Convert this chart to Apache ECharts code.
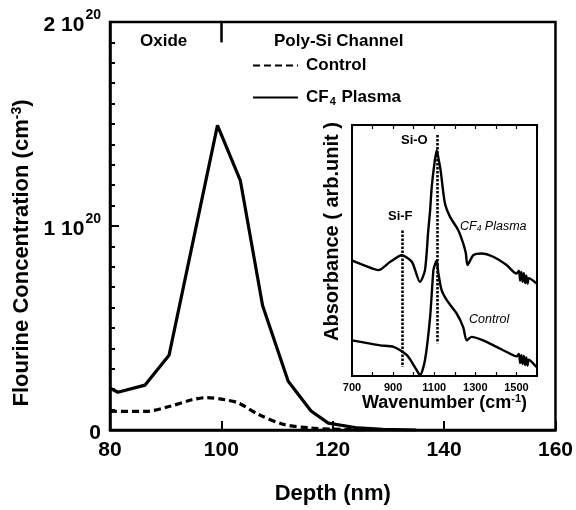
<!DOCTYPE html>
<html>
<head>
<meta charset="utf-8">
<script src="https://cdn.jsdelivr.net/npm/echarts@6/dist/echarts.min.js"></script>
<style>html,body{margin:0;padding:0;background:#fff}#c{width:576px;height:510px}</style>
</head>
<body>
<div id="c"></div>
<script>
// ---- Main SIMS profile data (Depth nm, concentration cm^-3) ----
const cf4Depth = [80, 81.4, 86.3, 90.6, 99.3, 103.4, 107.4, 112.0, 116.1, 119.2, 124.5, 129, 135];
const cf4Conc  = [0.205e20, 0.185e20, 0.22e20, 0.366e20, 1.493e20, 1.224e20, 0.61e20, 0.239e20, 0.093e20, 0.034e20, 0.01e20, 0.003e20, 0];
const ctlDepth = [80, 86.3, 90.6, 94.7, 97.4, 100.7, 103.1, 106.7, 111.4, 116.1, 120, 126];
const ctlConc  = [0.092e20, 0.091e20, 0.115e20, 0.148e20, 0.159e20, 0.148e20, 0.132e20, 0.076e20, 0.026e20, 0.01e20, 0.004e20, 0];
const yTicks = [0, 1e20, 2e20];
const xTicks = [80, 100, 120, 140, 160];

// ---- Inset FTIR data (wavenumber cm^-1, absorbance arb.) ----
const irWave = [700, 756, 829, 886, 942, 991, 1031, 1055, 1071, 1080, 1088, 1100, 1112, 1120, 1131, 1152, 1177, 1217, 1241, 1254, 1262, 1290, 1330, 1387, 1452, 1500, 1512, 1518, 1524, 1530, 1536, 1542, 1548, 1554, 1560, 1597];
const irCF4  = [46.1, 44.2, 42.2, 45.5, 48.1, 45.5, 37.5, 42.2, 58, 66, 75.4, 84, 90, 87, 82, 68.8, 63.4, 58.1, 52.8, 48.8, 44.2, 48.1, 48.8, 47.5, 44.2, 40.8, 42, 38, 41.5, 37.5, 41, 37, 40, 36.8, 39, 36.9];
const irWave2 = [700, 789, 837, 902, 967, 1015, 1031, 1055, 1080, 1096, 1104, 1112, 1120, 1136, 1161, 1209, 1241, 1258, 1282, 1338, 1403, 1468, 1500, 1512, 1518, 1524, 1530, 1536, 1542, 1548, 1554, 1560, 1597];
const irCtl  = [14.2, 12.9, 12.2, 11.6, 8.3, 2.3, 0.3, 6.3, 23.5, 42.2, 44.5, 46, 41, 34.2, 30.2, 24.9, 19.5, 14.2, 15.6, 14.2, 11.6, 8.9, 7.8, 8.8, 5.2, 8.3, 4.8, 8, 4.4, 7.4, 4.2, 6.5, 3.6];
const siF = [945, 58, 3.6];   // wavenumber, top, bottom
const siO = [1115, 96, 13];

const FONT = '"Liberation Sans", Arial, Helvetica, sans-serif';
const zip = (a, b) => a.map((v, i) => [v, b[i]]);

const chart = echarts.init(document.getElementById('c'), null, {renderer: 'canvas'});
chart.setOption({
  animation: false,
  backgroundColor: '#fff',
  textStyle: {fontFamily: FONT},
  grid: [
    {left: 110, top: 22, width: 448, height: 410, show: true, borderColor: '#000', borderWidth: 2.5, backgroundColor: 'transparent'},
    {left: 352, top: 125, width: 185, height: 251, show: true, borderColor: '#000', borderWidth: 2, backgroundColor: '#fff'}
  ],
  legend: {
    data: ['Control', 'CF4 Plasma'],
    orient: 'vertical', left: 252, top: 57, padding: 0,
    itemWidth: 45, itemHeight: 20, itemGap: 15,
    itemStyle: {opacity: 0},
    formatter: n => n === 'CF4 Plasma' ? '{a|CF}{s|4}{a| Plasma}' : '{a|' + n + '}',
    textStyle: {
      color: '#000', padding: [0, 0, 0, 3],
      rich: {
        a: {fontFamily: FONT, fontWeight: 'bold', fontSize: 17, color: '#000'},
        s: {fontFamily: FONT, fontWeight: 'bold', fontSize: 11, color: '#000', verticalAlign: 'bottom', padding: [8, 1, 0, 1]}
      }
    }
  },
  xAxis: [
    {
      gridIndex: 0, type: 'value', min: 80, max: 160, interval: 20,
      name: 'Depth (nm)', nameLocation: 'middle', nameGap: 53,
      nameTextStyle: {fontFamily: FONT, fontWeight: 'bold', fontSize: 22, color: '#000'},
      axisLine: {show: true, lineStyle: {color: '#000', width: 2.5}},
      axisTick: {show: true, inside: true, length: 9, lineStyle: {color: '#000', width: 2}},
      axisLabel: {margin: 10, fontFamily: FONT, fontWeight: 'bold', fontSize: 21, color: '#000'},
      splitLine: {show: false}
    },
    {
      gridIndex: 1, type: 'value', min: 700, max: 1600, interval: 100,
      name: 'Wavenumber (cm{s|-1})', nameLocation: 'middle', nameGap: 17,
      nameTextStyle: {fontFamily: FONT, fontWeight: 'bold', fontSize: 18, color: '#000',
        rich: {s: {fontFamily: FONT, fontWeight: 'bold', fontSize: 11, color: '#000', verticalAlign: 'top', padding: [0, 0, 8, 0]}}},
      axisLine: {show: true, lineStyle: {color: '#000', width: 2}},
      axisTick: {show: true, inside: true, length: 4, lineStyle: {color: '#000', width: 1.2}},
      axisLabel: {margin: 6, fontFamily: FONT, fontWeight: 'bold', fontSize: 11, color: '#000',
        formatter: v => ((v - 700) % 200 === 0 && v < 1600) ? String(v) : ''},
      splitLine: {show: false}
    },
    {
      gridIndex: 1, type: 'value', min: 700, max: 1600, interval: 100, position: 'top',
      axisLine: {show: true, lineStyle: {color: '#000', width: 2}},
      axisTick: {show: true, inside: true, length: 4, lineStyle: {color: '#000', width: 1.2}},
      axisLabel: {show: false}, splitLine: {show: false}
    }
  ],
  yAxis: [
    {
      gridIndex: 0, type: 'value', min: 0, max: 2e20, interval: 1e20,
      name: 'Flourine Concentration (cm{s|-3})', nameLocation: 'middle', nameGap: 73,
      nameTextStyle: {fontFamily: FONT, fontWeight: 'bold', fontSize: 22, color: '#000', padding: [0, 54, 0, 0],
        rich: {s: {fontFamily: FONT, fontWeight: 'bold', fontSize: 14, color: '#000', verticalAlign: 'top', padding: [0, 0, 10, 0]}}},
      axisLine: {show: true, lineStyle: {color: '#000', width: 2.5}},
      axisTick: {show: true, inside: true, length: 9, lineStyle: {color: '#000', width: 2}},
      minorTick: {show: true, splitNumber: 10, length: 5, lineStyle: {color: '#000', width: 2}},
      axisLabel: {
        margin: 9, fontFamily: FONT, fontWeight: 'bold', fontSize: 21, color: '#000',
        formatter: v => v === 0 ? '{a|0}' : '{a|' + Math.round(v / 1e20) + ' 10}{s|20}',
        rich: {
          a: {fontFamily: FONT, fontWeight: 'bold', fontSize: 21, color: '#000', padding: [6, 0, 0, 0]},
          s: {fontFamily: FONT, fontWeight: 'bold', fontSize: 14, color: '#000', verticalAlign: 'top', padding: [0, 0, 6, 1]}
        }
      },
      splitLine: {show: false}
    },
    {
      gridIndex: 1, type: 'value', min: 0, max: 100,
      name: 'Absorbance ( arb.unit )', nameLocation: 'middle', nameGap: 10,
      nameTextStyle: {fontFamily: FONT, fontWeight: 'bold', fontSize: 20, color: '#000', padding: [0, 0, 0, 38]},
      axisLine: {show: true, lineStyle: {color: '#000', width: 2}},
      axisTick: {show: false}, axisLabel: {show: false}, splitLine: {show: false}
    }
  ],
  series: [
    {
      name: 'Control', type: 'line', xAxisIndex: 0, yAxisIndex: 0,
      data: zip(ctlDepth, ctlConc), symbol: 'none', smooth: 0.3,
      lineStyle: {color: '#000', width: 3.2, type: [7, 4]}, itemStyle: {color: '#000'}
    },
    {
      name: 'CF4 Plasma', type: 'line', xAxisIndex: 0, yAxisIndex: 0,
      data: zip(cf4Depth, cf4Conc), symbol: 'none',
      lineStyle: {color: '#000', width: 3.2, type: 'solid'}, itemStyle: {color: '#000'},
      markLine: {
        silent: true, symbol: 'none', label: {show: false},
        lineStyle: {color: '#000', width: 2.5, type: 'solid'},
        data: [[{coord: [100, 2e20]}, {coord: [100, 1.9e20]}]]
      }
    },
    {
      name: 'irCF4', type: 'line', xAxisIndex: 1, yAxisIndex: 1,
      data: zip(irWave, irCF4), symbol: 'none', smooth: 0.25,
      lineStyle: {color: '#000', width: 2.4}, z: 5
    },
    {
      name: 'irCtl', type: 'line', xAxisIndex: 1, yAxisIndex: 1,
      data: zip(irWave2, irCtl), symbol: 'none', smooth: 0.25,
      lineStyle: {color: '#000', width: 2.4}, z: 5,
      markLine: {
        silent: true, symbol: 'none', label: {show: false},
        lineStyle: {color: '#000', width: 2.6, type: [2.5, 1.5]},
        data: [
          [{coord: [siF[0], siF[1]]}, {coord: [siF[0], siF[2]]}],
          [{coord: [siO[0], siO[1]]}, {coord: [siO[0], siO[2]]}]
        ]
      }
    }
  ],
  graphic: [
    {type: 'text', left: 140, top: 33, z: 20, style: {text: 'Oxide', fontFamily: FONT, fontWeight: 'bold', fontSize: 17, fill: '#000'}},
    {type: 'text', left: 274, top: 33, z: 20, style: {text: 'Poly-Si Channel', fontFamily: FONT, fontWeight: 'bold', fontSize: 17, fill: '#000'}},
    {type: 'text', left: 401, top: 134, z: 20, style: {text: 'Si-O', fontFamily: FONT, fontWeight: 'bold', fontSize: 13, fill: '#000'}},
    {type: 'text', left: 388, top: 210, z: 20, style: {text: 'Si-F', fontFamily: FONT, fontWeight: 'bold', fontSize: 13, fill: '#000'}},
    {type: 'text', left: 460, top: 220, z: 20, style: {
      text: '{a|CF}{s|4}{a| Plasma}',
      rich: {
        a: {fontFamily: FONT, fontStyle: 'italic', fontSize: 12.5, fill: '#000'},
        s: {fontFamily: FONT, fontStyle: 'italic', fontSize: 8.5, fill: '#000', verticalAlign: 'bottom', padding: [5, 0, 0, 0]}
      }}},
    {type: 'text', left: 469, top: 313, z: 20, style: {text: 'Control', fontFamily: FONT, fontStyle: 'italic', fontSize: 12.5, fill: '#000'}}
  ]
});
</script>
</body>
</html>
